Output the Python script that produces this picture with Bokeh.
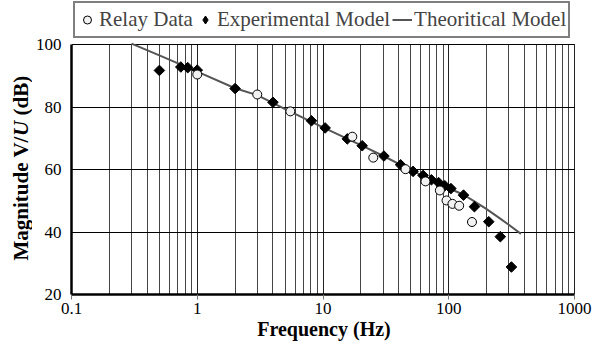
import numpy as np
from bokeh.plotting import figure
from bokeh.layouts import row
from bokeh.models import (Range1d, FixedTicker, Legend, LegendItem, Label,
                          CustomJSTickFormatter, LogTicker)
from bokeh.embed import file_html
from bokeh.resources import INLINE

# ---- data ----
relay_f = [1.0, 3.0, 5.5, 17.1, 25.1, 45.3, 65.3, 85.0, 96.0, 107.0, 121.0, 153.0]
relay_db = [90.4, 84.0, 78.6, 70.5, 63.8, 60.1, 56.2, 53.3, 50.1, 49.0, 48.4, 43.2]

exp_f = [0.5, 0.74, 0.84, 1.0, 2.0, 4.0, 8.1, 10.4, 15.6, 20.5, 30.5, 41.4, 52.0,
         62.5, 72.8, 83.0, 93.0, 104.0, 131.0, 160.0, 208.0, 257.0, 315.0]
exp_db = [91.7, 92.8, 92.6, 91.8, 85.9, 81.5, 75.6, 73.3, 69.8, 67.6, 64.3, 61.5, 59.4,
          58.1, 56.7, 55.8, 54.8, 53.9, 51.8, 48.1, 43.3, 38.5, 28.8]

theo_f = [0.3, 0.5, 1, 2, 3, 5, 10, 20, 30, 50, 100, 130, 160, 200, 250, 300, 375]
theo_db = [100.3, 96.5, 91.3, 86.0, 83.8, 79.3, 73.5, 67.8, 64.4, 59.8, 54.0, 52.0,
           49.8, 47.3, 44.6, 42.3, 39.4]

x_lim = (0.1, 1000)
y_lim = (20, 100)
y_ticks = [20, 40, 60, 80, 100]
legend_labels = ["Relay Data", "Experimental Model", "Theoritical Model"]

SERIF = "'Liberation Serif', 'Times New Roman', serif"
W, H = 593, 349
TW = 32                      # width of the y-title strip
F_LEFT, F_RIGHT = 68, 574    # page x of 0.1 and 1000
F_BOTTOM, F_TOP = 294, 44    # page y of 20 and 100
PX_DEC = (F_RIGHT - F_LEFT) / 4.0
PX_DB = (F_BOTTOM - F_TOP) / 80.0
EXTRA_R = 2                  # frame reaches a little past 1000 so its grid line shows fully
x_hi = 10 ** (3 + EXTRA_R / PX_DEC)
y_hi = y_lim[0] + F_BOTTOM / PX_DB   # frame runs up to the top of the page (legend lives in it)

LINE_STYLE = dict(line_color="#555555", line_width=2)
EXP_STYLE = dict(marker="square", angle=np.pi / 4, size=7.5, fill_color="black", line_color="black")
REL_STYLE = dict(marker="circle", size=9, fill_color="#f2f2f2", line_color="black", line_width=1)

# ---- main plot ----
p = figure(width=W - TW, height=H, x_axis_type="log",
           x_range=Range1d(x_lim[0], x_hi), y_range=Range1d(y_lim[0], y_hi),
           output_backend="svg", toolbar_location=None,
           min_border_left=F_LEFT - TW, min_border_right=W - F_RIGHT - EXTRA_R,
           min_border_top=0, min_border_bottom=H - F_BOTTOM)
p.background_fill_color = "white"
p.border_fill_color = "white"
p.outline_line_color = None
p.extra_y_ranges = {"keys": Range1d(-2, -1)}   # range used only by legend-key renderers

p.xaxis.ticker = LogTicker(num_minor_ticks=10)
p.xaxis.formatter = CustomJSTickFormatter(code="return String(Math.round(tick*10)/10);")
p.yaxis.ticker = FixedTicker(ticks=y_ticks)
p.ygrid.ticker = FixedTicker(ticks=y_ticks)
p.xaxis.bounds = x_lim
p.yaxis.bounds = y_lim

for ax in (p.xaxis[0], p.yaxis[0]):
    ax.axis_line_color = "black"
    ax.axis_line_width = 2.5
    ax.major_label_text_font = SERIF
    ax.major_label_text_font_size = "17px"
    ax.major_label_text_color = "black"
    ax.minor_tick_line_color = None

p.xaxis.major_tick_line_color = "#777777"
p.xaxis.major_tick_out = 5
p.xaxis.major_tick_in = 0
p.xaxis.major_label_standoff = 3
p.xaxis.axis_label = "Frequency (Hz)"
p.xaxis.axis_label_text_font = SERIF
p.xaxis.axis_label_text_font_size = "20px"
p.xaxis.axis_label_text_font_style = "bold"
p.xaxis.axis_label_text_color = "black"
p.xaxis.axis_label_standoff = 1

p.yaxis.major_tick_line_color = None
p.yaxis.major_tick_out = 0
p.yaxis.major_tick_in = 0
p.yaxis.major_label_standoff = 10

p.xgrid.bounds = x_lim
p.xgrid.cross_bounds = y_lim
p.ygrid.bounds = y_lim
p.ygrid.cross_bounds = x_lim
p.xgrid.grid_line_color = "#222222"
p.xgrid.grid_line_width = 1
p.xgrid.minor_grid_line_color = "#444444"
p.xgrid.minor_grid_line_width = 1
p.ygrid.grid_line_color = "black"
p.ygrid.grid_line_width = 1

r_line = p.line(theo_f, theo_db, **LINE_STYLE)
p.scatter(exp_f, exp_db, **EXP_STYLE)
r_rel = p.scatter(relay_f, relay_db, **REL_STYLE)
# same series as a diamond marker, outside the view: gives the legend its diamond key
r_exp_key = p.scatter(exp_f, exp_db, marker="diamond", fill_color="black",
                      line_color="black", y_range_name="keys")

legend = Legend(items=[LegendItem(label=legend_labels[0], renderers=[r_rel]),
                       LegendItem(label=legend_labels[1], renderers=[r_exp_key]),
                       LegendItem(label=legend_labels[2], renderers=[r_line])],
                orientation="horizontal", location=(70 - F_LEFT, F_BOTTOM - 38), margin=0,
                label_text_font=SERIF, label_text_font_size="21px",
                glyph_width=20, glyph_height=29, label_standoff=2, spacing=2,
                padding=2, border_line_color="black", border_line_width=2,
                background_fill_alpha=1.0, label_height=29)
p.add_layout(legend, "center")

# ---- strip holding the y-axis title (bold, with italic U) ----
t = figure(width=TW, height=H, output_backend="svg", toolbar_location=None,
           x_axis_location=None, y_axis_location=None,
           x_range=Range1d(0, 1), y_range=Range1d(0, 1),
           min_border_left=0, min_border_right=0, min_border_top=0, min_border_bottom=0)
t.outline_line_color = None
t.grid.visible = False
t.background_fill_color = "white"
t.border_fill_color = "white"
tx = 20
parts = [("Magnitude V/", "bold", 34), ("U", "bold italic", 158.5), ("(dB)", "bold", 179)]
for txt, style, ypos in parts:
    t.add_layout(Label(x=tx, y=ypos, x_units="screen", y_units="screen", angle=np.pi / 2,
                       text=txt, text_font=SERIF, text_font_size="21px",
                       text_font_style=style, text_color="black",
                       text_align="left", text_baseline="middle"))

layout = row(t, p, spacing=0)
open("out.html", "w").write(file_html(layout, INLINE))
